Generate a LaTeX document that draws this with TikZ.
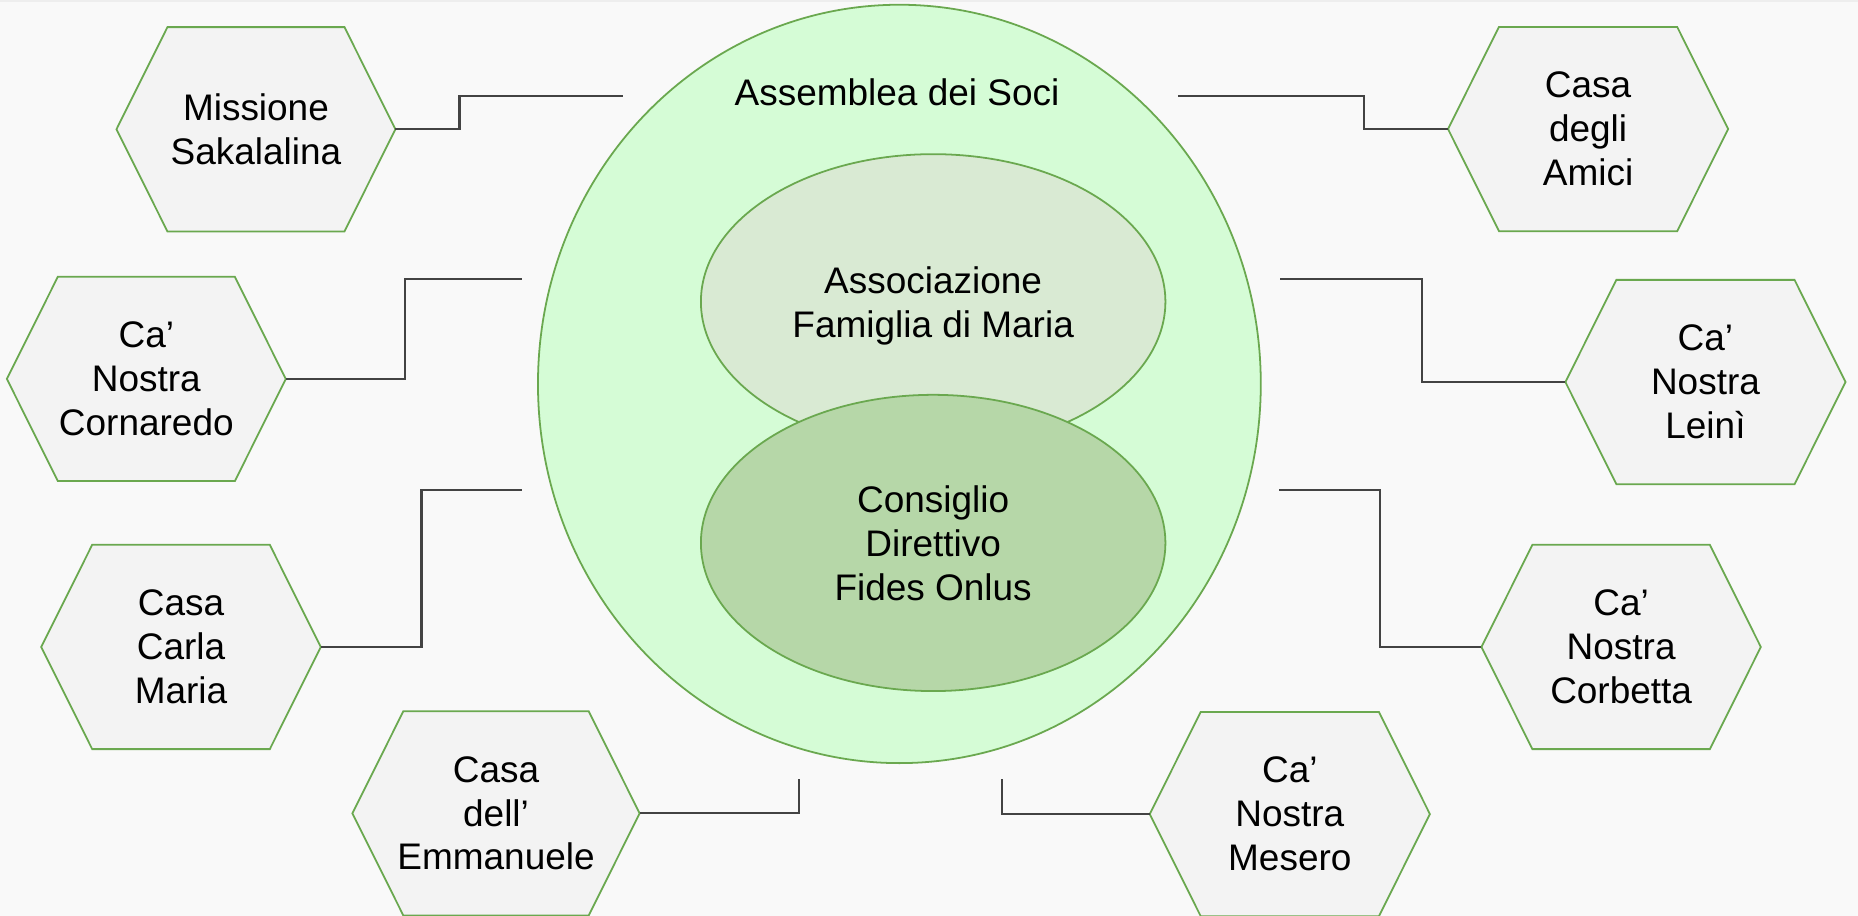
\documentclass[tikz,border=0pt]{standalone}
\usepackage{fontspec}
\setmainfont{Liberation Sans}
\usetikzlibrary{shapes.geometric}
\definecolor{pagebg}{RGB}{249,249,249}
\definecolor{topband}{RGB}{238,238,238}
\definecolor{bigfill}{RGB}{213,252,214}
\definecolor{famfill}{HTML}{D9EAD3}
\definecolor{cdfill}{HTML}{B6D7A8}
\definecolor{hexfill}{HTML}{F3F3F3}
\definecolor{gstroke}{HTML}{6AA84F}
\definecolor{connline}{HTML}{434343}
\pgfdeclarelayer{bg}
\pgfdeclarelayer{hex}
\pgfsetlayers{bg,hex,main}
\tikzset{
  lbl/.style={font=\fontsize{31.2}{37}\selectfont, align=center, text=black, inner sep=0pt},
  hexbox/.style={lbl, minimum height=172pt},
  hexline/.style={draw=gstroke, fill=hexfill, line width=1.5pt, line join=miter},
  oval/.style={ellipse, draw=gstroke, line width=1.5pt, inner sep=0pt},
  conn/.style={draw=connline, line width=1.9pt},
}
\newcommand\hexnode[5]{%
  \node[hexbox, minimum width=#4pt] (#1) at (#2,#3) {#5};
  \begin{pgfonlayer}{hex}
    \path[hexline] (#1.west) -- ([xshift=43pt]#1.north west) -- ([xshift=-43pt]#1.north east) -- (#1.east) -- ([xshift=-43pt]#1.south east) -- ([xshift=43pt]#1.south west) -- cycle;
  \end{pgfonlayer}}
\begin{document}
\begin{tikzpicture}[x=1pt,y=-1pt]
\begin{pgfonlayer}{bg}
  \fill[pagebg] (0,0) rectangle (1568,773);
  \fill[topband] (0,0) rectangle (1568,2);
\end{pgfonlayer}
\useasboundingbox (0,0) rectangle (1568,773);

% central ovals
\node[oval, fill=bigfill, minimum width=610pt, minimum height=640pt] (asm) at (759,324) {};
\node[lbl] (asmt) at (757,78) {Assemblea dei Soci};
\node[oval, fill=famfill, minimum width=392pt, minimum height=249pt] (fam) at (787.5,254.6) {};
\node[lbl] (famt) at (787.5,258) {Associazione\\Famiglia di Maria};
\node[oval, lbl, fill=cdfill, minimum width=392pt, minimum height=250pt] (cdf) at (787.5,458.2) {Consiglio\\Direttivo\\Fides Onlus};

% hexagons
\hexnode{mis}{216}{109.1}{235}{Missione\\Sakalalina}
\hexnode{cor}{123.5}{319.8}{235}{Ca’\\Nostra\\Cornaredo}
\hexnode{car}{152.75}{546}{235.5}{Casa\\Carla\\Maria}
\hexnode{emm}{418.6}{686.4}{242}{Casa\\dell’\\Emmanuele}
\hexnode{ami}{1340.2}{108.9}{236}{Casa\\degli\\Amici}
\hexnode{lei}{1439.25}{322.4}{236}{Ca’\\Nostra\\Leinì}
\hexnode{cob}{1368.1}{546}{235.4}{Ca’\\Nostra\\Corbetta}
\hexnode{mes}{1088.5}{687}{236}{Ca’\\Nostra\\Mesero}

% free ends of connectors
\coordinate (eMis) at (526,81.3);
\coordinate (eCor) at (440.4,235.4);
\coordinate (eCar) at (440.8,413.5);
\coordinate (eEmm) at (674.4,657);
\coordinate (eAmi) at (994,81.3);
\coordinate (eLei) at (1079.8,235.4);
\coordinate (eCob) at (1079.3,413.5);
\coordinate (eMes) at (845.5,657);

% connectors
\draw[conn] (mis.east) -- ++(54.1,0) |- (eMis);
\draw[conn] (cor.east) -- ++(100.4,0) |- (eCor);
\draw[conn] (car.east) -- ++(85.1,0) |- (eCar);
\draw[conn] (emm.east) -| (eEmm);
\draw[conn] (ami.west) -- ++(-71.2,0) |- (eAmi);
\draw[conn] (lei.west) -- ++(-121.1,0) |- (eLei);
\draw[conn] (cob.west) -- ++(-85.5,0) |- (eCob);
\draw[conn] (mes.west) -| (eMes);
\end{tikzpicture}
\end{document}
